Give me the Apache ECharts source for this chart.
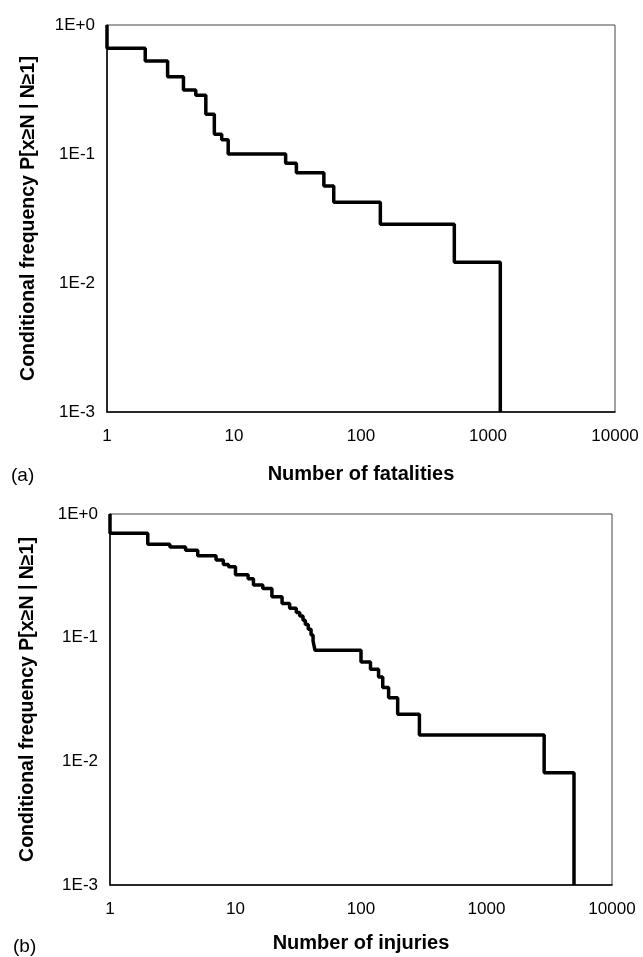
<!DOCTYPE html>
<html>
<head>
<meta charset="utf-8">
<script src="https://cdn.jsdelivr.net/npm/echarts@6/dist/echarts.min.js"></script>
<style>
    html, body { margin: 0; padding: 0; background: #fff; }
    #main { width: 643px; height: 957px; }
</style>
</head>
<body>
<div id="main"></div>
<script>
    // (a) fatalities: x where the curve drops, and the level after the drop
    var fatalN = [1, 1, 2, 3, 4, 5, 6, 7, 8, 9, 25.5, 31, 51, 61, 142, 543, 1250];
    var fatalP = [1.0, 0.66, 0.526, 0.397, 0.313, 0.285, 0.203, 0.142, 0.129, 0.100, 0.0847, 0.0717, 0.0565, 0.0422, 0.0285, 0.0145, 0.001];

    // (b) injuries
    var injuryN = [1, 1, 2, 3, 4, 5, 7, 8, 8.8, 10, 12.6, 13.9, 16.5, 19.5, 23.5, 27, 30.5, 32.5, 34.5, 36, 38, 40, 41.5, 43, 100, 119, 138, 149, 166, 196, 292, 2880, 4980];
    var injuryP = [1.0, 0.70, 0.57, 0.54, 0.51, 0.46, 0.425, 0.39, 0.375, 0.322, 0.30, 0.267, 0.25, 0.214, 0.189, 0.173, 0.160, 0.150, 0.138, 0.128, 0.117, 0.105, 0.094, 0.079, 0.0636, 0.0556, 0.048, 0.0395, 0.0326, 0.024, 0.0163, 0.0081, 0.001];

    var xTickLabels = ['1', '10', '100', '1000', '10000'];
    var yTickLabels = ['1E-3', '1E-2', '1E-1', '1E+0'];

    var yTitle = 'Conditional frequency P[x\u2265N | N\u22651]';
    var xTitles = ['Number of fatalities', 'Number of injuries'];
    var panelTags = ['(a)', '(b)'];

    var toPairs = function (xs, ys) {
        var res = [];
        for (var i = 0; i < xs.length; i++) {
            res.push([xs[i], ys[i]]);
        }
        return res;
    };

    var font = 'Liberation Sans, Arial, sans-serif';

    var makeX = function (idx, gap) {
        return {
            type: 'log', logBase: 10, min: 1, max: 10000, gridIndex: idx,
            name: xTitles[idx], nameLocation: 'middle', nameGap: gap,
            nameTextStyle: { color: '#000', fontSize: 20, fontWeight: 'bold', fontFamily: font },
            axisLine: { show: true, lineStyle: { color: '#000', width: 1.5 } },
            axisTick: { show: false },
            splitLine: { show: false },
            axisLabel: {
                color: '#000', fontSize: 17, fontFamily: font, margin: 16,
                formatter: function (v) {
                    return xTickLabels[Math.round(Math.log10(v))];
                }
            }
        };
    };

    var makeY = function (idx, gap) {
        return {
            type: 'log', logBase: 10, min: 0.001, max: 1, gridIndex: idx,
            name: yTitle, nameLocation: 'middle', nameGap: gap, nameRotate: 90,
            nameTextStyle: { color: '#000', fontSize: 19.5, fontWeight: 'bold', fontFamily: font },
            axisLine: { show: true, lineStyle: { color: '#000', width: 1.5 } },
            axisTick: { show: false },
            splitLine: { show: false },
            axisLabel: {
                color: '#000', fontSize: 17, fontFamily: font, margin: 12,
                formatter: function (v) {
                    return yTickLabels[Math.round(Math.log10(v)) + 3];
                }
            }
        };
    };

    var chart = echarts.init(document.getElementById('main'), null, { renderer: 'canvas' });
    var option = {
        backgroundColor: '#fff',
        animation: false,
        title: [
            { text: panelTags[0], left: 6, top: 461, textStyle: { color: '#000', fontSize: 19, fontWeight: 'normal', fontFamily: font } },
            { text: panelTags[1], left: 8, top: 932, textStyle: { color: '#000', fontSize: 19, fontWeight: 'normal', fontFamily: font } }
        ],
        grid: [
            { left: 107, top: 25, width: 508, height: 387, show: true, borderColor: '#444', borderWidth: 1 },
            { left: 110, top: 514, width: 502, height: 371, show: true, borderColor: '#444', borderWidth: 1 }
        ],
        xAxis: [makeX(0, 52), makeX(1, 48)],
        yAxis: [makeY(0, 68), makeY(1, 72)],
        series: [
            {
                type: 'line', xAxisIndex: 0, yAxisIndex: 0, step: 'end',
                data: toPairs(fatalN, fatalP), showSymbol: false,
                lineStyle: { color: '#000', width: 3.5 }
            },
            {
                type: 'line', xAxisIndex: 1, yAxisIndex: 1, step: 'end',
                data: toPairs(injuryN, injuryP), showSymbol: false,
                lineStyle: { color: '#000', width: 3.5 }
            }
        ]
    };
    chart.setOption(option);
</script>
</body>
</html>
